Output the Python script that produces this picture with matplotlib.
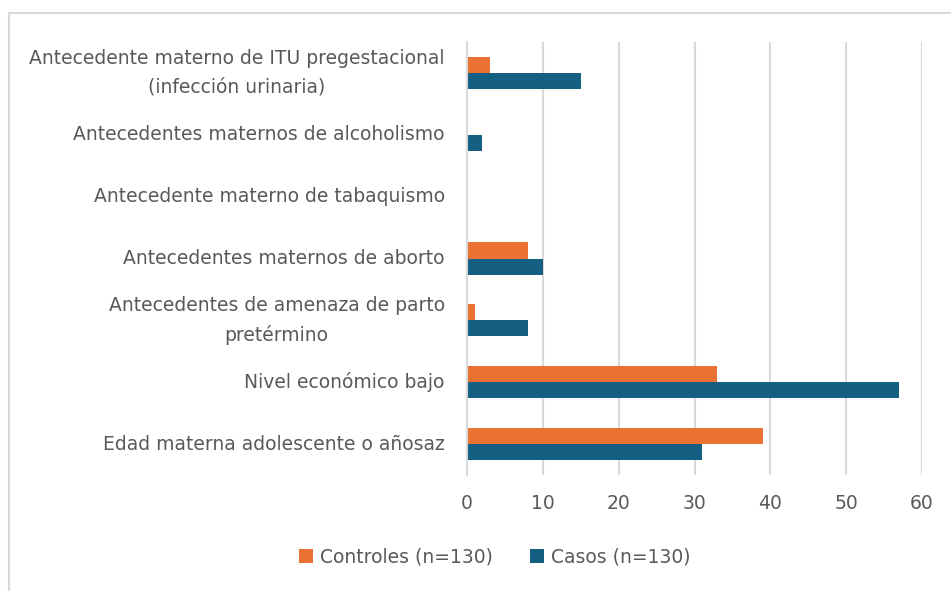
import numpy as np
import matplotlib
matplotlib.use("Agg")
import matplotlib.pyplot as plt
from matplotlib.patches import Rectangle

# categories, top to bottom as shown
categories = [
    "Antecedente materno de ITU pregestacional\n(infección urinaria)",
    "Antecedentes maternos de alcoholismo",
    "Antecedente materno de tabaquismo",
    "Antecedentes maternos de aborto",
    "Antecedentes de amenaza de parto\npretérmino",
    "Nivel económico bajo",
    "Edad materna adolescente o añosaz",
]
controles = [3, 0, 0, 8, 1, 33, 39]
casos = [15, 2, 0, 10, 8, 57, 31]
xticks = [0, 10, 20, 30, 40, 50, 60]

c_orange = "#E97132"
c_blue = "#156082"
c_text = "#595959"
c_grid = "#D9D9D9"
fs = 13.5

fig = plt.figure(figsize=(9.51, 5.91), dpi=100)
ax = fig.add_axes([467 / 951, 1 - 475 / 591, 455 / 951, 433 / 591])

y = np.arange(len(categories))
h = 0.26
ax.barh(y - h / 2, controles, height=h, color=c_orange, label="Controles (n=130)")
ax.barh(y + h / 2, casos, height=h, color=c_blue, label="Casos (n=130)")

ax.set_ylim(len(categories) - 0.5, -0.5)
ax.set_xlim(0, 60)
ax.set_xticks(xticks)
ax.set_yticks(y)
ax.set_yticklabels(categories, ma="center", va="center", linespacing=1.6)

ax.tick_params(axis="y", length=0, pad=16, labelsize=fs, labelcolor=c_text)
ax.tick_params(axis="x", length=0, pad=14, labelsize=fs, labelcolor=c_text)

ax.grid(axis="x", color=c_grid, linewidth=1.5)
ax.set_axisbelow(True)
for s in ["top", "right", "bottom"]:
    ax.spines[s].set_visible(False)
ax.spines["left"].set_color(c_grid)
ax.spines["left"].set_linewidth(1.5)

fig.legend(loc="center", bbox_to_anchor=(495 / 951, 1 - 557 / 591), ncol=2,
           frameon=False, fontsize=fs, labelcolor=c_text, handlelength=0.7,
           handleheight=0.7, handletextpad=0.4, columnspacing=2.0)

# light chart-area border
fig.patches.append(Rectangle((9 / 951, -0.05), 1.1, 1 - 13 / 591 + 0.05,
                             transform=fig.transFigure, fill=False,
                             edgecolor=c_grid, linewidth=1.5))

fig.savefig("out.png", dpi=100)
